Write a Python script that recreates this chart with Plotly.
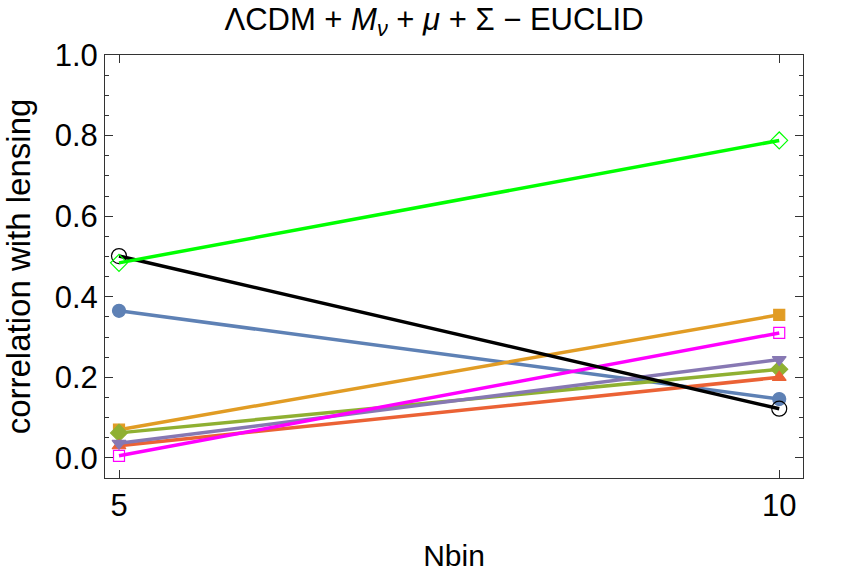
import plotly.graph_objects as go

nbin = [5, 10]

series_names = ["s1", "s2", "s3", "s4", "s5", "s6", "s7", "s8"]
s1 = [0.365, 0.146]   # blue filled circle
s2 = [0.070, 0.355]   # orange filled square
s3 = [0.062, 0.220]   # olive filled diamond
s4 = [0.030, 0.200]   # red filled up-triangle
s5 = [0.036, 0.244]   # purple filled down-triangle
s6 = [0.005, 0.310]   # magenta open square
s7 = [0.501, 0.122]   # black open circle
s8 = [0.484, 0.788]   # green open diamond

values = [s1, s2, s3, s4, s5, s6, s7, s8]
colors = ["#5E81B5", "#E19C24", "#8FB032", "#EB6235", "#8778B3", "#FF00FF", "#000000", "#00FF00"]
symbols = ["circle", "square", "diamond", "triangle-up", "triangle-down",
           "square-open", "circle-open", "diamond-open"]
msizes = [13, 11, 13, 12, 12, 11, 15, 13]

fig = go.Figure()
for name, v, c, s, ms in zip(series_names, values, colors, symbols, msizes):
    fig.add_trace(go.Scatter(
        x=nbin, y=v, mode="lines+markers", name=name,
        line=dict(color=c, width=3.5),
        marker=dict(color=c, symbol=s, size=ms, line=dict(color=c, width=1.2)),
        cliponaxis=False,
    ))

FONT = "Liberation Sans, Arial, sans-serif"
fig.update_layout(
    width=843, height=574,
    margin=dict(l=105, r=40, t=55, b=96),
    paper_bgcolor="white", plot_bgcolor="white",
    showlegend=False,
    font=dict(family=FONT, color="black", size=30),
    title=dict(text="ΛCDM + <i>M</i><sub><i>ν</i></sub> + <i>μ</i> + Σ − EUCLID",
               x=434 / 843, xref="container", xanchor="center",
               y=1 - 19 / 574, yref="container", yanchor="middle",
               font=dict(family=FONT, size=31, color="black")),
)
fig.update_xaxes(
    range=[4.894, 10.18], tickvals=[5, 10], ticktext=["5", "10"],
    ticks="inside", ticklen=8, tickcolor="#333", showline=True, linecolor="#333",
    linewidth=1, mirror="ticks", showgrid=False, zeroline=False,
    ticklabelstandoff=0,
    tickfont=dict(family=FONT, size=31, color="black"),
    title=dict(text="Nbin", font=dict(family=FONT, size=30, color="black"), standoff=22),
    automargin=False,
)
fig.update_yaxes(
    range=[-0.05, 1.0], tickvals=[0, 0.2, 0.4, 0.6, 0.8, 1.0],
    ticktext=["0.0", "0.2", "0.4", "0.6", "0.8", "1.0"],
    ticks="inside", ticklen=8, tickcolor="#333", showline=True, linecolor="#333",
    linewidth=1, mirror="ticks", showgrid=False, zeroline=False,
    minor=dict(dtick=0.05, tick0=0, ticks="inside", ticklen=4, tickcolor="#333"),
    tickfont=dict(family=FONT, size=31, color="black"),
    title=dict(text="correlation with lensing", font=dict(family=FONT, size=33, color="black"), standoff=22),
    automargin=False,
)

fig.write_html("out.html", config={"displayModeBar": False},
               post_script="document.body.style.margin='0px';")
